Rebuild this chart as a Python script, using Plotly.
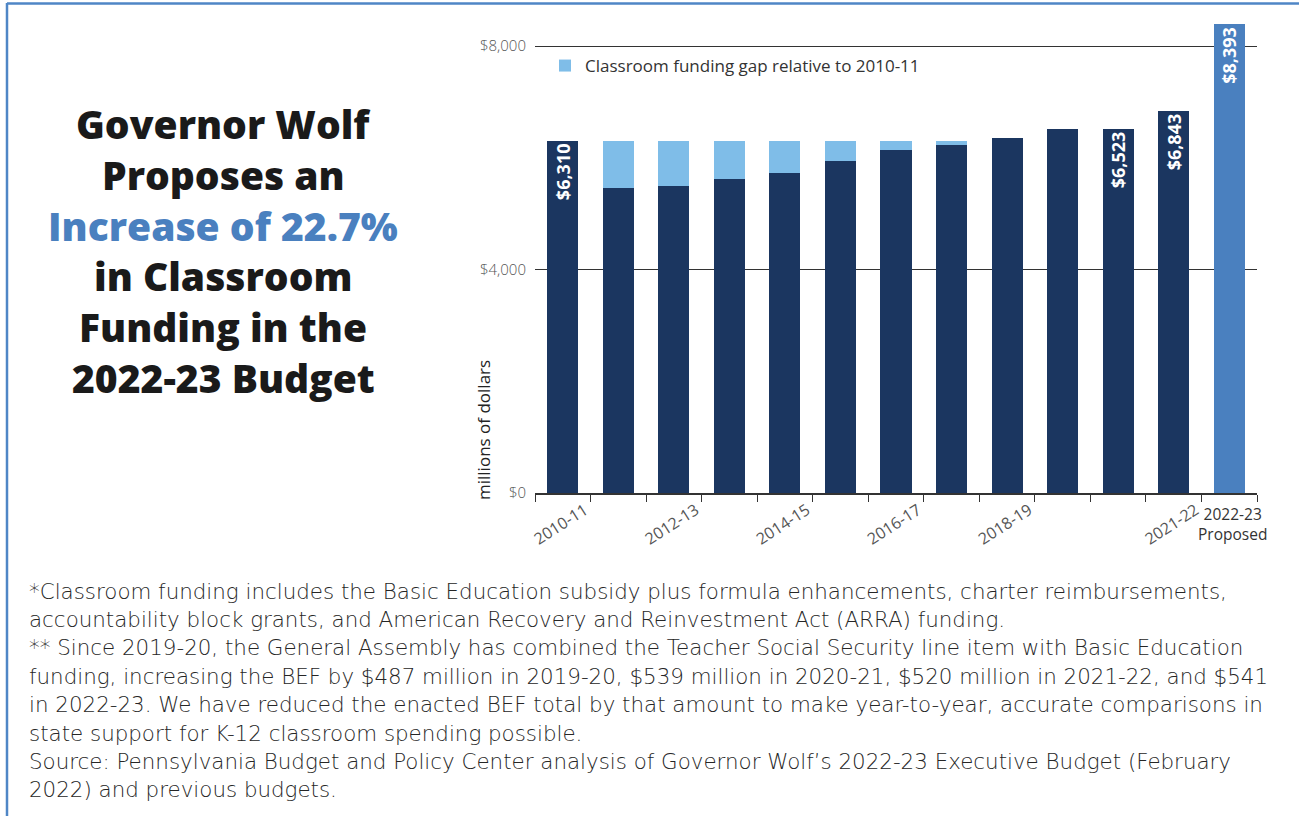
import plotly.graph_objects as go

# ---- data (millions of dollars) ----
years = ["2010-11", "2011-12", "2012-13", "2013-14", "2014-15", "2015-16", "2016-17",
         "2017-18", "2018-19", "2019-20", "2020-21", "2021-22", "2022-23"]
classroom_funding = [6310, 5460, 5495, 5620, 5725, 5940, 6140, 6230, 6355, 6515, 6523, 6843, 8393]
funding_gap = [0, 850, 815, 690, 585, 370, 170, 80, 0, 0, 0, 0, 0]
tick_labels = ["2010-11", "", "2012-13", "", "2014-15", "", "2016-17", "", "2018-19", "", "", "2021-22", ""]
labelled_years = ["2010-11", "2020-21", "2021-22", "2022-23"]
proposed_label = "2022-23<br>Proposed"
y_ticks = [0, 4000, 8000]
y_tick_labels = ["$0", "$4,000", "$8,000"]

title_lines = ["Governor Wolf", "Proposes an", "Increase of 22.7%", "in Classroom",
               "Funding in the", "2022-23 Budget"]
note_lines = [
    "*Classroom funding includes the Basic Education subsidy plus formula enhancements, charter reimbursements,",
    "accountability block grants, and American Recovery and Reinvestment Act (ARRA) funding.",
    "** Since 2019-20, the General Assembly has combined the Teacher Social Security line item with Basic Education",
    "funding, increasing the BEF by $487 million in 2019-20, $539 million in 2020-21, $520 million in 2021-22, and $541",
    "in 2022-23. We have reduced the enacted BEF total by that amount to make year-to-year, accurate comparisons in",
    "state support for K-12 classroom spending possible.",
    "Source: Pennsylvania Budget and Policy Center analysis of Governor Wolf\u2019s 2022-23 Executive Budget (February",
    "2022) and previous budgets.",
]

# ---- styling ----
NAVY = "#1b3660"
GAP_BLUE = "#7fbde8"
PROPOSED_BLUE = "#4a80bf"
TEXT = "#333333"
FONT = "Open Sans"
NOTE_FONT = "DejaVu Sans"

W, H = 1299, 816
PLOT_L, PLOT_R, PLOT_T, PLOT_B = 535, 1257, 21, 493


def px_x(px):
    return (px - PLOT_L) / (PLOT_R - PLOT_L)


def px_y(py):
    return (PLOT_B - py) / (PLOT_B - PLOT_T)


bar_colors = [PROPOSED_BLUE if y == "2022-23" else NAVY for y in years]
bar_text = [f"${v:,}" if y in labelled_years else "" for y, v in zip(years, classroom_funding)]

fig = go.Figure()
fig.add_trace(go.Bar(
    x=years, y=classroom_funding, marker=dict(color=bar_colors, line=dict(width=0)),
    text=bar_text, textposition="inside", insidetextanchor="end", textangle=-90,
    textfont=dict(family=FONT, size=18, color="white", weight=700),
    showlegend=False, hoverinfo="skip",
))
fig.add_trace(go.Bar(
    x=years, y=funding_gap, marker=dict(color=GAP_BLUE, line=dict(width=0)),
    name="Classroom funding gap relative to 2010-11", showlegend=True, hoverinfo="skip",
))

annotations = []
# left headline
for i, line in enumerate(title_lines):
    annotations.append(dict(
        text=line, xref="paper", yref="paper", x=px_x(223), y=px_y(124 + 50.6 * i),
        xanchor="center", yanchor="middle", showarrow=False,
        font=dict(family=FONT, size=39, weight=800,
                  color=PROPOSED_BLUE if i == 2 else "#1a1a1a"),
    ))
# footnotes
for i, line in enumerate(note_lines):
    annotations.append(dict(
        text=line, xref="paper", yref="paper", x=px_x(27), y=px_y(591 + 28.4 * i),
        xanchor="left", yanchor="middle", showarrow=False,
        font=dict(family=NOTE_FONT, size=21.4, weight=200, color="#262626"),
    ))
# y-axis title, sitting low along the axis
annotations.append(dict(
    text="millions of dollars", xref="paper", yref="paper", x=px_x(483), y=px_y(502),
    xanchor="center", yanchor="bottom", textangle=-90, showarrow=False,
    font=dict(family=FONT, size=17, color="#222222"),
))
# proposed-year category label
annotations.append(dict(
    text=proposed_label, xref="x", yref="paper", x=years[-1], y=px_y(501), xshift=3,
    xanchor="center", yanchor="top", showarrow=False,
    font=dict(family=FONT, size=15.5, color=TEXT),
))

shapes = [
    dict(type="line", xref="paper", yref="paper", x0=px_x(7), x1=px_x(W), y0=px_y(3.5), y1=px_y(3.5),
         line=dict(color="#4f86c6", width=2.5)),
    dict(type="line", xref="paper", yref="paper", x0=px_x(7), x1=px_x(7), y0=px_y(3), y1=px_y(H),
         line=dict(color="#4f86c6", width=2.5)),
]

fig.update_layout(
    width=W, height=H, autosize=False,
    margin=dict(l=PLOT_L, r=W - PLOT_R, t=PLOT_T, b=H - PLOT_B, pad=0),
    paper_bgcolor="white", plot_bgcolor="white",
    barmode="stack", bargap=0.44,
    font=dict(family=FONT, color=TEXT),
    legend=dict(x=px_x(545), y=px_y(48), xanchor="left", yanchor="top",
                bgcolor="rgba(0,0,0,0)", font=dict(family=FONT, size=17, color=TEXT)),
    xaxis=dict(
        type="category", range=[-0.5, len(years) - 0.5],
        tickmode="array", tickvals=years, ticktext=tick_labels,
        tickangle=-33, ticklabelshift=22, tickson="boundaries", ticks="outside", ticklen=7,
        tickcolor=TEXT, showline=True, linecolor=TEXT, linewidth=1.5, showgrid=False,
        tickfont=dict(family=FONT, size=16, color="#555555"),
    ),
    yaxis=dict(
        range=[0, 8450], tickmode="array", tickvals=y_ticks, ticktext=y_tick_labels,
        showgrid=True, gridcolor=TEXT, gridwidth=1,
        zeroline=False, showline=False, ticks="", ticklabelstandoff=8,
        tickfont=dict(family=FONT, size=15, color="#555555", weight=300),
    ),
    annotations=annotations, shapes=shapes,
)

fig.write_html("out.html")
